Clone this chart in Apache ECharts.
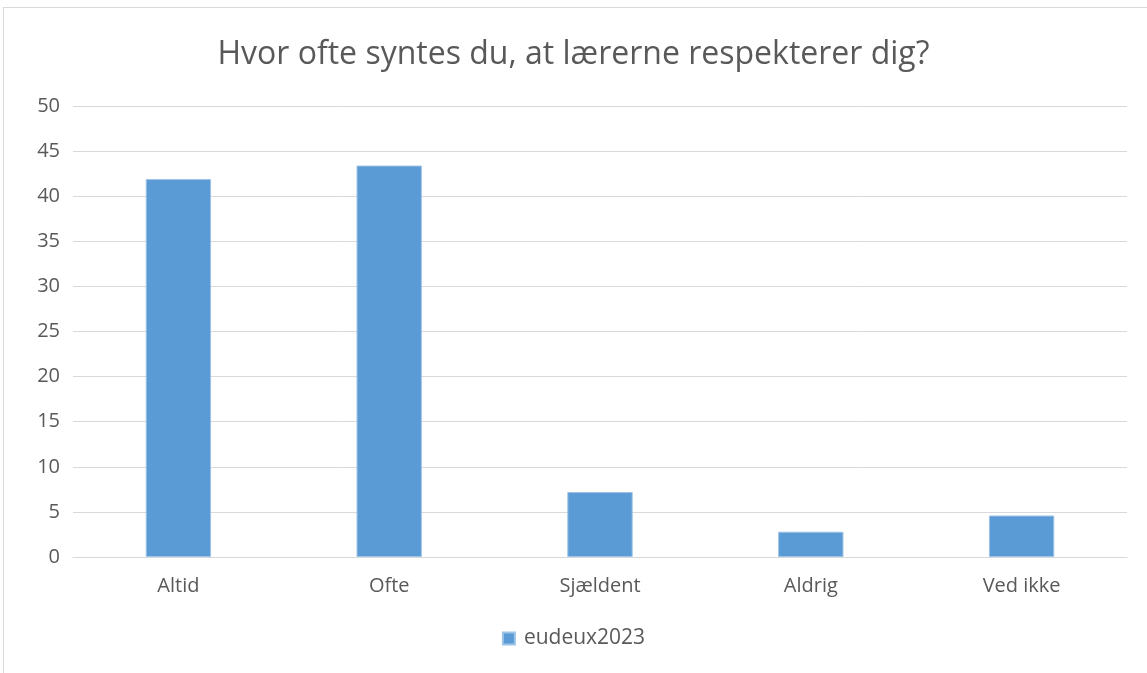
<!DOCTYPE html>
<html>
<head>
<meta charset="utf-8">
<script src="https://cdn.jsdelivr.net/npm/echarts@6/dist/echarts.min.js"></script>
<style>
html, body { margin: 0; padding: 0; background: #fff; }
#frame {
  position: absolute; left: 3px; top: 7px; width: 1150px; height: 680px;
  border: 1px solid #d9d9d9; box-sizing: border-box;
}
#chart { position: absolute; left: 0; top: 0; width: 1147px; height: 673px; }
</style>
</head>
<body>
<div id="frame"></div>
<div id="chart"></div>
<script>
var categories = ['Altid', 'Ofte', 'Sjældent', 'Aldrig', 'Ved ikke']
var values = [41.9, 43.4, 7.2, 2.8, 4.6]
var seriesName = 'eudeux2023'
var titleText = 'Hvor ofte syntes du, at lærerne respekterer dig?'

var chart = echarts.init(document.getElementById('chart'))
chart.setOption({
  animation: false,
  title: {
    text: titleText,
    left: 'center',
    top: 34,
    textStyle: {
      color: '#595959',
      fontSize: 32,
      fontWeight: 'normal',
      fontFamily: 'Open Sans'
    }
  },
  grid: {
    left: 73,
    right: 20,
    top: 106,
    bottom: 116
  },
  legend: {
    data: [seriesName],
    bottom: 19,
    left: 'center',
    itemWidth: 12,
    itemHeight: 12,
    itemGap: 7,
    icon: 'rect',
    textStyle: { color: '#595959', fontSize: 21, fontFamily: 'Open Sans', padding: [0, 0, 0, 4] }
  },
  xAxis: {
    type: 'category',
    data: categories,
    axisTick: { show: false },
    axisLine: { lineStyle: { color: '#d9d9d9', width: 1 } },
    axisLabel: {
      color: '#595959',
      fontSize: 20,
      fontFamily: 'Open Sans',
      margin: 19
    }
  },
  yAxis: {
    type: 'value',
    min: 0,
    max: 50,
    interval: 5,
    axisLine: { show: false },
    axisTick: { show: false },
    axisLabel: {
      color: '#595959',
      fontSize: 20,
      fontFamily: 'Open Sans',
      margin: 13
    },
    splitLine: { lineStyle: { color: '#d9d9d9', width: 1 } }
  },
  series: [
    {
      name: seriesName,
      type: 'bar',
      data: values,
      barWidth: '31%',
      itemStyle: {
        color: '#5b9bd5',
        borderColor: '#9dc3e6',
        borderWidth: 1
      }
    }
  ]
})
</script>
</body>
</html>
